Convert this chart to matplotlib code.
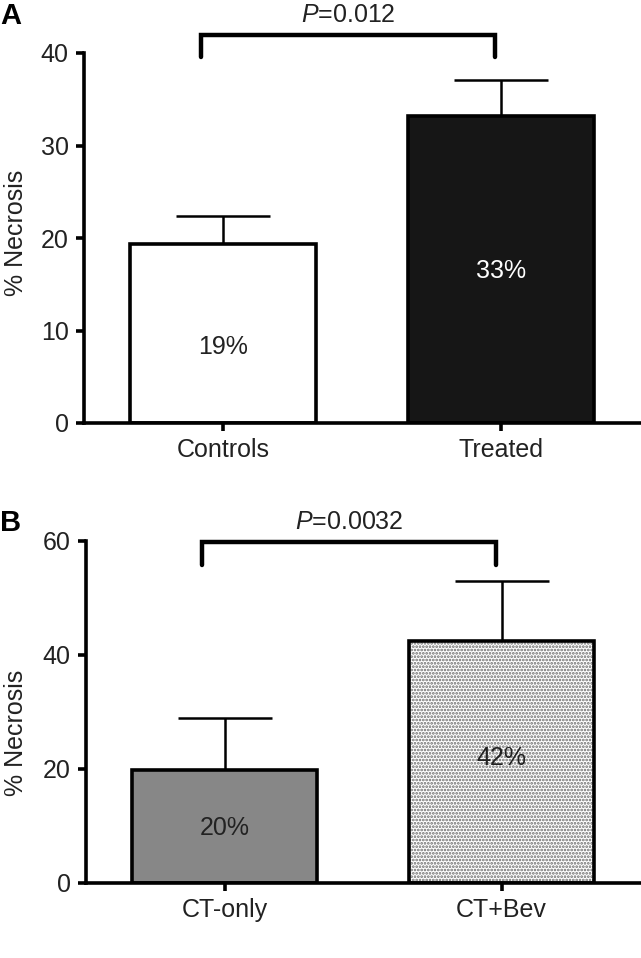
import matplotlib
matplotlib.use("Agg")
import matplotlib.pyplot as plt

plt.rcParams['font.family'] = ['Liberation Sans', 'DejaVu Sans']
plt.rcParams['mathtext.fontset'] = 'custom'
plt.rcParams['mathtext.rm'] = 'Liberation Sans'
plt.rcParams['mathtext.it'] = 'Liberation Sans:italic'
plt.rcParams['hatch.linewidth'] = 1.3

# Panel A data
cats_a = ["Controls", "Treated"]
vals_a = [19.4, 33.2]
err_a = [3.0, 3.9]
labels_a = ["19%", "33%"]
label_y_a = [8.2, 16.4]
p_a = "$\\mathit{P}$=0.012"

# Panel B data
cats_b = ["CT-only", "CT+Bev"]
vals_b = [19.8, 42.4]
err_b = [9.2, 10.6]
labels_b = ["20%", "42%"]
label_y_b = [9.6, 21.9]
p_b = "$\\mathit{P}$=0.0032"

fig = plt.figure(figsize=(6.41, 9.58), dpi=100)
W, H = 641, 958

def px_axes(x0, x1, ytop, ybot):
    return fig.add_axes([x0 / W, 1 - ybot / H, (x1 - x0) / W, (ybot - ytop) / H])

axA = px_axes(84, 640, 53, 423)
axB = px_axes(86, 640, 541, 883)

FS = 18
BW = 0.67

def style(ax, ymax, step, x0px, label_y_frac):
    ax.set_xlim(-0.5, 1.5)
    ax.set_ylim(0, ymax)
    ax.set_yticks(range(0, ymax + 1, step))
    for s in ['top', 'right']:
        ax.spines[s].set_visible(False)
    for s in ['left', 'bottom']:
        ax.spines[s].set_linewidth(2.6)
    ax.tick_params(axis='both', width=2.6, length=6, labelsize=FS, pad=5,
                   colors='#222222')
    ax.tick_params(axis='both', color='black')
    ax.set_ylabel("% Necrosis", fontsize=FS, color='#222222')
    ax.yaxis.label.set_verticalalignment('center')
    width_px = 640 - x0px
    ax.yaxis.set_label_coords((16 - x0px) / width_px, label_y_frac)

def bracket(ax, y_top, y_tick, text, text_y):
    x0, x1 = -0.08, 0.98
    ax.plot([x0, x0, x1, x1], [y_tick, y_top, y_top, y_tick], color='black',
            lw=3.2, clip_on=False, solid_capstyle='round', solid_joinstyle='miter')
    ax.text((x0 + x1) / 2, text_y, text, ha='center', va='baseline', fontsize=FS,
            color='#222222', clip_on=False)

# Panel A
x = [0, 1]
axA.bar(x, vals_a, width=BW, color=['white', '#161616'], edgecolor='black',
        linewidth=2.6, zorder=2)
for xi, v, e in zip(x, vals_a, err_a):
    axA.errorbar(xi, v, yerr=[[0], [e]], color='black', lw=1.8, capsize=34,
                 capthick=1.8, zorder=1)
for xi, t, ty, c in zip(x, labels_a, label_y_a, ['#222222', 'white']):
    axA.text(xi, ty, t, ha='center', va='center', fontsize=FS, color=c, zorder=3)
axA.set_xticks(x)
axA.set_xticklabels(cats_a)
style(axA, 40, 10, 84, 0.515)
bracket(axA, 42.0, 39.6, p_a, 43.3)

# Panel B
axB.bar(0, vals_b[0], width=BW, color='#878787', edgecolor='black',
        linewidth=2.6, zorder=2)
axB.bar(1, vals_b[1], width=BW, color='white', edgecolor='#6a6a6a',
        hatch='.....', linewidth=0, zorder=2)
axB.bar(1, vals_b[1], width=BW, color='none', edgecolor='black',
        linewidth=2.6, zorder=2.5)
for xi, v, e in zip(x, vals_b, err_b):
    axB.errorbar(xi, v, yerr=[[0], [e]], color='black', lw=1.8, capsize=34,
                 capthick=1.8, zorder=1)
for xi, t, ty in zip(x, labels_b, label_y_b):
    axB.text(xi, ty, t, ha='center', va='center', fontsize=FS, color='#222222',
             zorder=3)
axB.set_xticks(x)
axB.set_xticklabels(cats_b)
style(axB, 60, 20, 86, 0.44)
bracket(axB, 59.8, 55.8, p_b, 62.1)

fig.text(0.0, 1 - 24 / H, "A", fontsize=21, fontweight='bold', va='baseline', ha='left')
fig.text(0.0, 1 - 531 / H, "B", fontsize=21, fontweight='bold', va='baseline', ha='left')

fig.savefig("out.png", dpi=100)
